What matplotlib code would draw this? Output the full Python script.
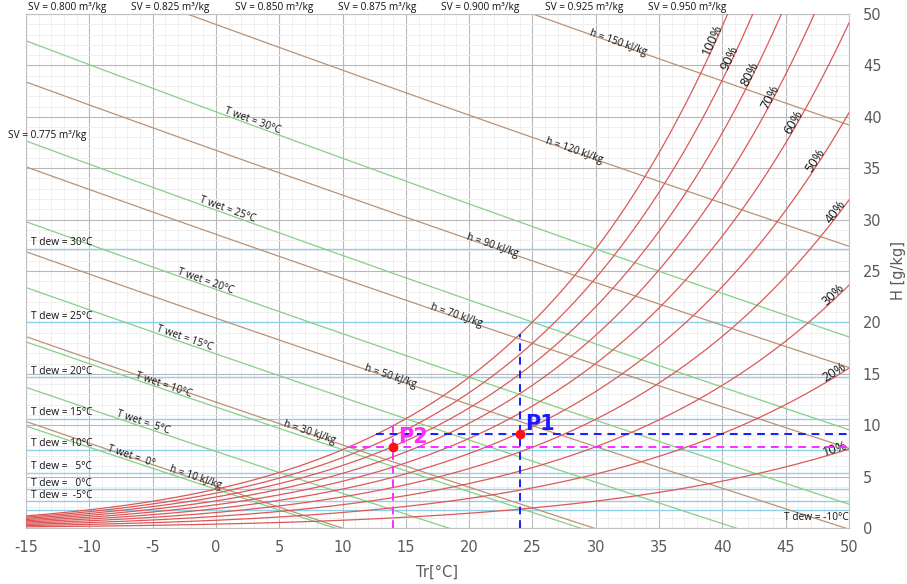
import numpy as np
import matplotlib
matplotlib.use("Agg")
import matplotlib.pyplot as plt
import matplotlib.ticker as ticker

plt.rcParams["axes.unicode_minus"] = False

# --- chart data ---
rh_levels = [0.1, 0.2, 0.3, 0.4, 0.5, 0.6, 0.7, 0.8, 0.9, 1.0]
wet_bulb = [0, 5, 10, 15, 20, 25, 30]
wet_labels = ["T wet =  0°", "T wet =  5°C", "T wet = 10°C", "T wet = 15°C",
              "T wet = 20°C", "T wet = 25°C", "T wet = 30°C"]
enthalpy = [10, 30, 50, 70, 90, 120, 150]
dew_points = [30, 25, 20, 15, 10, 5, 0, -5, -10]
dew_labels = ["T dew = 30°C", "T dew = 25°C", "T dew = 20°C", "T dew = 15°C",
              "T dew = 10°C", "T dew =   5°C", "T dew =   0°C", "T dew =  -5°C",
              "T dew = -10°C"]
spec_vol = [0.775, 0.800, 0.825, 0.850, 0.875, 0.900, 0.925, 0.950]
points = ["P1", "P2"]
point_T = [24, 14]
point_H = [9.1, 7.9]
point_colors = ["#1a1aff", "#ff2bff"]

P = 101325.0


def psat(T):
    return 610.94 * np.exp(17.625 * T / (T + 243.04))


def w_rh(T, rh):
    pv = rh * psat(T)
    return 622.0 * pv / (P - pv)


def w_wet(T, twb):
    ws = w_rh(twb, 1.0) / 1000
    return 1000 * ((2501 - 2.326 * twb) * ws - 1.006 * (T - twb)) / (2501 + 1.86 * T - 4.186 * twb)


def w_h(T, h):
    return 1000 * (h - 1.006 * T) / (2450 + 1.86 * T)


def t_dew(W):
    pv = W * P / (622.0 + W)
    a = np.log(pv / 610.94)
    return 243.04 * a / (17.625 - a)


def w_sv(T, v):
    return ((v * P / 1000) / (0.287042 * (T + 273.15)) - 1) / 1.607858 * 1000


T = np.linspace(-15, 50, 400)

fig = plt.figure(figsize=(9.07, 5.84), dpi=100)
ax = fig.add_axes([26 / 907, 56 / 584, 823 / 907, 514 / 584])
ax.set_xlim(-15, 50)
ax.set_ylim(0, 50)

ax.xaxis.set_major_locator(ticker.MultipleLocator(5))
ax.xaxis.set_minor_locator(ticker.MultipleLocator(1))
ax.yaxis.set_major_locator(ticker.MultipleLocator(5))
ax.yaxis.set_minor_locator(ticker.MultipleLocator(1))
ax.grid(which="major", color="#b8b8b8", lw=0.8)
ax.grid(which="minor", color="#efefef", lw=0.7)
ax.set_axisbelow(True)
ax.yaxis.tick_right()
ax.yaxis.set_label_position("right")
ax.tick_params(which="both", length=0, colors="#5a5a5a", labelsize=10.5)
ax.tick_params(axis="y", pad=10)
ax.tick_params(axis="x", pad=9)
for s in ax.spines.values():
    s.set_color("#c0c0c0")
ax.set_xlabel("Tr[°C]", color="#5a5a5a", fontsize=10.5, labelpad=7)
ax.set_ylabel("H [g/kg]", color="#5a5a5a", fontsize=10.5, labelpad=7)

lab = dict(family="Open Sans", fontsize=7.3, color="#111111")


def angle(fn, x, dx=0.3):
    p1 = ax.transData.transform((x - dx, fn(x - dx)))
    p2 = ax.transData.transform((x + dx, fn(x + dx)))
    return np.degrees(np.arctan2(p2[1] - p1[1], p2[0] - p1[0]))


# dew point lines
for td in dew_points:
    ax.axhline(w_rh(td, 1.0), color="#8fd0ea", lw=1.0, zorder=1)
for td, txt in zip(dew_points, dew_labels):
    if td == -10:
        ax.text(50, w_rh(td, 1.0) - 0.2, txt, ha="right", va="top", **lab)
    else:
        ax.text(-14.6, w_rh(td, 1.0) + 0.05, txt, ha="left", va="bottom", **lab)

# wet bulb lines
for twb in wet_bulb:
    ax.plot(T, w_wet(T, twb), color="#86cf86", lw=0.9, zorder=2)
wet_lab_T = [-6.7, -5.75, -4.1, -2.5, -0.86, 0.95, 2.9]
for twb, txt, tx in zip(wet_bulb, wet_labels, wet_lab_T):
    f = lambda x, t=twb: w_wet(x, t)
    ax.text(tx, f(tx) + 0.45, txt, ha="center", va="center",
            rotation=angle(f, tx), rotation_mode="anchor", **lab)

# enthalpy lines
for h in enthalpy:
    ax.plot(T, w_h(T, h), color="#bb9273", lw=0.9, zorder=2)
h_lab_T = [-1.65, 7.4, 13.75, 19.0, 21.8, 28.3, 31.8]
for h, tx in zip(enthalpy, h_lab_T):
    f = lambda x, hh=h: w_h(x, hh)
    ax.text(tx, f(tx) + 0.15, f"h = {h} kJ/kg", ha="center", va="center",
            rotation=angle(f, tx), rotation_mode="anchor", **lab)

# relative humidity curves
for rh in rh_levels:
    ax.plot(T, w_rh(T, rh), color="#dc5858", lw=0.9, zorder=3)
rh_lab_T = [49.05, 49.0, 48.9, 49.1, 47.5, 45.8, 43.9, 42.3, 40.7, 39.4]
for rh, tx in zip(rh_levels, rh_lab_T):
    f = lambda x, r=rh: w_rh(x, r)
    ax.text(tx - 0.15, f(tx) + 0.35, f"{int(round(rh * 100))}%", ha="center", va="center",
            rotation=angle(f, tx), rotation_mode="anchor",
            family="Open Sans", fontsize=9.3, color="#111111")

# specific volume labels
for v in spec_vol:
    t_top = (v * P / 1000) / (0.287042 * (1 + 1.607858 * 0.05)) - 273.15
    if t_top < -15:
        ax.text(-13.3, w_sv(-15, v) + 0.5, f"SV = {v:.3f} m³/kg", ha="center", va="bottom",
                clip_on=False, **lab)
    else:
        ax.text(t_top, 50.05, f"SV = {v:.3f} m³/kg", ha="center", va="bottom",
                clip_on=False, **lab)

# state points
for name, tp, hp, c in zip(points, point_T, point_H, point_colors):
    ax.plot([tp, tp], [0, w_rh(tp, 1.0)], color=c, lw=1.4, ls=(0, (4, 3)), zorder=5)
    ax.plot([t_dew(hp), 50], [hp, hp], color=c, lw=1.4, ls=(0, (4, 3)), zorder=5)
for name, tp, hp, c in zip(points, point_T, point_H, point_colors):
    ax.plot(tp, hp, "o", color="#ff1010", ms=6, zorder=7)
    ax.text(tp + 0.4, hp + 0.4, name, color=c, fontsize=15, fontweight="bold",
            ha="left", va="baseline", zorder=8)

fig.savefig("out.png", dpi=100)
